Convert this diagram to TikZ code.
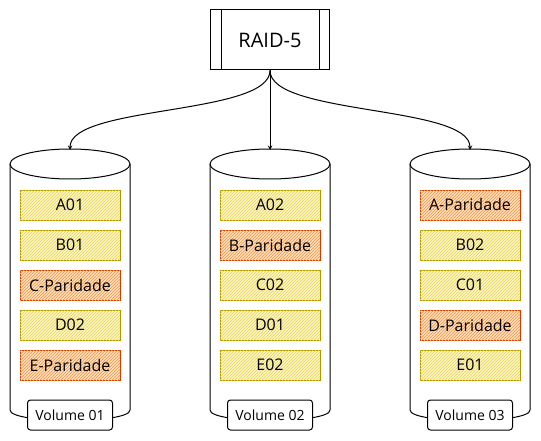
\documentclass[tikz,border=0pt]{standalone}
\usepackage{fontspec}
\setmainfont{Open Sans}
\usetikzlibrary{patterns}
\definecolor{datafill}{HTML}{E3C800}
\definecolor{dataline}{HTML}{B09500}
\definecolor{parfill}{HTML}{FA6800}
\definecolor{parline}{HTML}{C73500}
\begin{document}
\begin{tikzpicture}[x=1pt,y=-1pt,line width=1pt,
  data/.style={draw=dataline,fill=datafill!18,postaction={pattern=north east lines,pattern color=datafill!75},
    minimum width=100,minimum height=30,inner sep=0pt,font=\fontsize{16}{18}\selectfont},
  parity/.style={data,draw=parline,fill=parfill!18,postaction={pattern=north east lines,pattern color=parfill!70}},
  vol/.style={draw,fill=white,rounded corners=3pt,minimum width=85,minimum height=30,inner sep=0pt,font=\fontsize{14}{16}\selectfont}]
\useasboundingbox (0,0) rectangle (541,441);
% controller
\node[draw,minimum width=119,minimum height=60,inner sep=0pt,font=\fontsize{20}{22}\selectfont] (raid) at (270,40) {RAID-5};
\draw ([xshift=11pt]raid.north west) -- ([xshift=11pt]raid.south west);
\draw ([xshift=-11pt]raid.north east) -- ([xshift=-11pt]raid.south east);
% disks
\draw[fill=white] (10,164) -- (10,410) .. controls (10,424) and (130,424) .. (130,410) -- (130,164);
\draw (70,164) ellipse [x radius=60, y radius=15];
\draw[fill=white] (210,164) -- (210,410) .. controls (210,424) and (330,424) .. (330,410) -- (330,164);
\draw (270,164) ellipse [x radius=60, y radius=15];
\draw[fill=white] (410,164) -- (410,410) .. controls (410,424) and (530,424) .. (530,410) -- (530,164);
\draw (470,164) ellipse [x radius=60, y radius=15];
\coordinate (in1) at (70,149);
\coordinate (in2) at (270,149);
\coordinate (in3) at (470,149);
\draw[->,>=stealth,shorten >=-1pt] (raid.south) .. controls +(0,45) and +(0,-44) .. (in1);
\draw[->,>=stealth,shorten >=-1pt] (raid.south) -- (in2);
\draw[->,>=stealth,shorten >=-1pt] (raid.south) .. controls +(0,45) and +(0,-44) .. (in3);
% volume 01
\node[data] (a1) at (70,205) {A01};
\node[data] (b1) at (70,245) {B01};
\node[parity] (c1) at (70,285) {C-Paridade};
\node[data] (d1) at (70,325) {D02};
\node[parity] (e1) at (70,365) {E-Paridade};
\node[vol] (v1) at (70,415) {Volume 01};
% volume 02
\node[data] (a2) at (270,205) {A02};
\node[parity] (b2) at (270,245) {B-Paridade};
\node[data] (c2) at (270,285) {C02};
\node[data] (d2) at (270,325) {D01};
\node[data] (e2) at (270,365) {E02};
\node[vol] (v2) at (270,415) {Volume 02};
% volume 03
\node[parity] (a3) at (470,205) {A-Paridade};
\node[data] (b3) at (470,245) {B02};
\node[data] (c3) at (470,285) {C01};
\node[parity] (d3) at (470,325) {D-Paridade};
\node[data] (e3) at (470,365) {E01};
\node[vol] (v3) at (470,415) {Volume 03};
\end{tikzpicture}
\end{document}
